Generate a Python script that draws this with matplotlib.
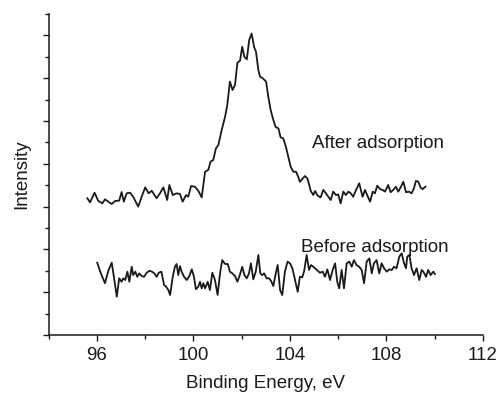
import matplotlib
matplotlib.use("Agg")
import matplotlib.pyplot as plt
from matplotlib.ticker import MultipleLocator, NullFormatter

plt.rcParams['font.family'] = ['Liberation Sans', 'DejaVu Sans']

# After adsorption spectrum (binding energy eV, intensity a.u.)
after_ev = [95.60, 95.71, 95.90, 96.05, 96.22, 96.33, 96.47, 96.61, 96.75, 96.92,
            97.02, 97.11, 97.23, 97.37, 97.50, 97.71, 97.85, 98.00, 98.14, 98.27,
            98.47, 98.61, 98.75, 98.91, 99.00, 99.14, 99.30, 99.44, 99.55, 99.69,
            99.78, 99.90, 100.06, 100.20, 100.34, 100.48, 100.61, 100.71, 100.82, 100.93,
            101.03, 101.17, 101.31, 101.40, 101.51, 101.62, 101.72, 101.82, 101.93, 102.02,
            102.11, 102.21, 102.31, 102.41, 102.51, 102.59, 102.69, 102.76, 102.87, 103.01,
            103.10, 103.20, 103.31, 103.41, 103.52, 103.61, 103.72, 103.83, 103.93, 104.03,
            104.14, 104.25, 104.34, 104.41, 104.53, 104.62, 104.72, 104.80, 104.86, 104.97,
            105.04, 105.15, 105.27, 105.38, 105.49, 105.59, 105.69, 105.79, 105.91, 106.00,
            106.10, 106.21, 106.32, 106.42, 106.52, 106.62, 106.74, 106.87, 107.01, 107.11,
            107.20, 107.32, 107.43, 107.52, 107.62, 107.73, 107.84, 107.94, 108.07, 108.17,
            108.28, 108.39, 108.49, 108.60, 108.70, 108.81, 108.93, 109.04, 109.14, 109.22,
            109.32, 109.42, 109.50, 109.61]
after_int = [6.39, 6.20, 6.65, 6.27, 6.15, 6.34, 6.23, 6.12, 6.26, 6.28,
             6.68, 6.23, 6.62, 6.65, 6.46, 6.00, 6.46, 6.90, 6.62, 6.74,
             6.39, 6.62, 6.90, 6.31, 7.01, 6.54, 6.62, 6.59, 6.23, 6.54,
             6.46, 6.96, 6.93, 6.74, 6.43, 7.63, 7.71, 8.10, 8.18, 8.72,
             8.88, 9.58, 10.20, 10.75, 11.84, 11.45, 11.68, 12.72, 12.82, 13.47,
             13.00, 12.88, 13.79, 14.09, 13.47, 13.24, 12.38, 12.07, 12.00, 11.84,
             11.14, 10.51, 10.05, 9.71, 9.66, 9.24, 9.19, 8.80, 8.33, 7.86,
             7.63, 7.63, 7.40, 7.16, 7.32, 7.43, 7.32, 7.01, 6.73, 6.54,
             6.73, 6.51, 6.43, 6.78, 6.62, 6.46, 6.31, 6.70, 6.54, 6.57,
             6.15, 6.70, 6.54, 6.70, 6.62, 6.46, 6.78, 7.09, 6.46, 6.78,
             6.54, 6.23, 6.70, 6.62, 6.98, 6.82, 6.78, 6.70, 7.01, 6.67,
             6.78, 6.93, 6.70, 6.93, 7.16, 6.67, 6.70, 6.62, 6.86, 7.20,
             7.16, 6.88, 6.82, 6.93]

# Before adsorption spectrum
before_ev = [96.01, 96.15, 96.33, 96.47, 96.61, 96.70, 96.82, 96.92, 97.02, 97.09,
             97.17, 97.26, 97.34, 97.44, 97.50, 97.59, 97.67, 97.75, 97.85, 97.95,
             98.06, 98.17, 98.28, 98.38, 98.47, 98.56, 98.67, 98.78, 98.86, 98.96,
             99.03, 99.14, 99.23, 99.30, 99.37, 99.44, 99.51, 99.61, 99.72, 99.83,
             99.93, 100.02, 100.10, 100.20, 100.27, 100.34, 100.41, 100.48, 100.59, 100.68,
             100.78, 100.89, 101.00, 101.10, 101.19, 101.31, 101.42, 101.51, 101.61, 101.72,
             101.82, 101.92, 102.02, 102.11, 102.21, 102.30, 102.38, 102.48, 102.58, 102.69,
             102.77, 102.85, 102.93, 103.03, 103.13, 103.21, 103.31, 103.41, 103.49, 103.59,
             103.68, 103.79, 103.90, 104.00, 104.10, 104.21, 104.32, 104.41, 104.51, 104.59,
             104.69, 104.79, 104.87, 104.97, 105.24, 105.36, 105.45, 105.55, 105.66, 105.77,
             105.87, 105.96, 106.04, 106.14, 106.24, 106.35, 106.46, 106.56, 106.65, 106.76,
             106.87, 106.97, 107.07, 107.18, 107.29, 107.39, 107.48, 107.59, 107.70, 107.80,
             107.90, 108.01, 108.12, 108.22, 108.31, 108.42, 108.53, 108.63, 108.73, 108.81,
             108.86, 108.95, 109.04, 109.14, 109.25, 109.36, 109.46, 109.53, 109.64, 109.73,
             109.83, 109.94, 110.01]
before_int = [3.38, 2.91, 2.42, 3.00, 3.38, 2.72, 1.79, 2.65, 2.49, 2.65,
              2.57, 2.96, 2.49, 3.19, 2.80, 2.96, 2.72, 2.88, 2.76, 2.72,
              2.91, 3.00, 2.96, 2.88, 2.72, 2.91, 2.96, 2.34, 2.26, 2.10,
              1.87, 2.72, 3.19, 3.32, 2.80, 3.22, 2.96, 2.72, 2.57, 2.76,
              3.07, 2.72, 2.14, 2.26, 2.49, 2.18, 2.42, 2.18, 2.49, 2.10,
              2.91, 2.57, 1.87, 2.88, 3.50, 3.32, 3.32, 2.96, 2.88, 2.76,
              2.49, 2.80, 3.19, 2.80, 2.65, 2.88, 3.35, 2.60, 2.96, 3.74,
              2.88, 2.80, 2.88, 2.65, 2.65, 2.54, 2.29, 2.88, 3.27, 2.10,
              1.87, 2.96, 3.43, 3.35, 3.12, 2.57, 2.02, 2.72, 2.70, 3.00,
              3.74, 3.04, 3.27, 3.19, 2.91, 2.96, 2.72, 3.07, 2.57, 3.04,
              3.35, 2.49, 2.18, 3.04, 2.18, 3.35, 3.43, 3.19, 3.50, 3.27,
              3.19, 3.04, 2.42, 3.43, 3.58, 2.88, 3.35, 3.50, 2.88, 3.35,
              3.12, 2.96, 3.07, 3.04, 3.19, 3.12, 3.66, 3.82, 3.35, 3.12,
              3.66, 3.74, 3.12, 2.80, 3.12, 2.57, 3.04, 2.96, 2.72, 3.04,
              2.80, 2.96, 2.85]

fig = plt.figure(figsize=(5.01, 3.96), dpi=100)
ax = fig.add_axes([0.0973, 0.154, 0.8667, 0.8106])

ax.plot(after_ev, after_int, color='#1a1a1a', lw=1.3)
ax.plot(before_ev, before_int, color='#1a1a1a', lw=1.3)

ax.text(104.9, 8.95, "After adsorption", fontsize=13.5, va='center', ha='left', color='#1a1a1a')
ax.text(104.45, 4.07, "Before adsorption", fontsize=13.5, va='center', ha='left', color='#1a1a1a')

ax.set_xlim(94, 112)
ax.set_ylim(0, 15)
ax.xaxis.set_minor_locator(MultipleLocator(2))
ax.set_xticks([96, 100, 104, 108, 112])
ax.yaxis.set_major_locator(MultipleLocator(2))
ax.yaxis.set_minor_locator(MultipleLocator(1))
ax.yaxis.set_major_formatter(NullFormatter())

for side in ['top', 'right']:
    ax.spines[side].set_visible(False)
for side in ['left', 'bottom']:
    ax.spines[side].set_linewidth(1.1)
    ax.spines[side].set_color('#1a1a1a')

ax.tick_params(which='major', direction='out', length=4.5, width=1.0, labelsize=13.5, colors='#1a1a1a', pad=4)
ax.tick_params(which='minor', direction='out', length=3, width=1.0, colors='#1a1a1a')

ax.set_xlabel("Binding Energy, eV", fontsize=13.5, labelpad=8, color='#1a1a1a')
ax.set_ylabel("Intensity", fontsize=13.5, labelpad=5, color='#1a1a1a')

fig.savefig("out.png", dpi=100)
